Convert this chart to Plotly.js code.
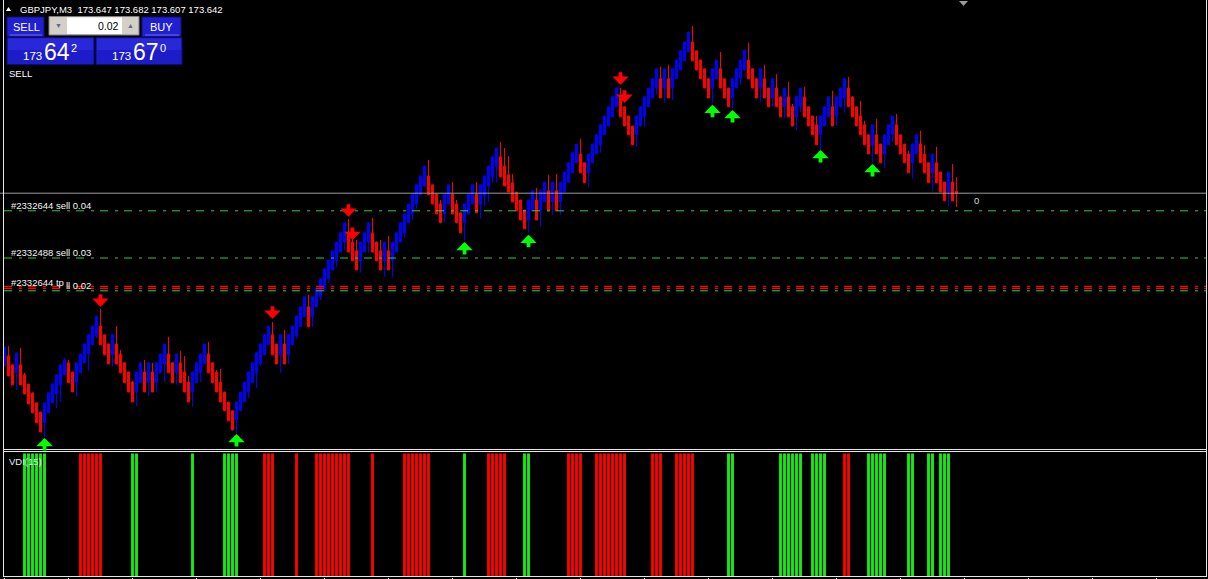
<!DOCTYPE html>
<html><head><meta charset="utf-8">
<script src="https://cdn.plot.ly/plotly-3.0.1.min.js"></script>
<style>html,body{margin:0;padding:0;background:#000;}#chart{width:1208px;height:579px;}</style>
</head><body><div id="chart"></div>
<script>
// ---------------- DATA ----------------
const symbolName = 'GBPJPY,M3';
const lastOHLC = ['173.647', '173.682', '173.607', '173.642'];
const opens = [
173.210,173.235,173.213,173.193,173.213,173.188,173.165,173.143,173.118,173.095,
173.068,173.093,173.118,173.140,173.163,173.188,173.218,173.195,173.168,173.193,
173.218,173.240,173.263,173.285,173.310,173.288,173.265,173.238,173.265,173.240,
173.218,173.195,173.170,173.145,173.168,173.195,173.168,173.195,173.168,173.193,
173.215,173.240,173.218,173.193,173.218,173.195,173.170,173.145,173.168,173.193,
173.215,173.240,173.218,173.195,173.170,173.145,173.120,173.098,173.075,173.098,
173.120,173.145,173.168,173.193,173.215,173.238,173.263,173.288,173.265,173.238,
173.265,173.238,173.263,173.285,173.308,173.333,173.358,173.333,173.358,173.383,
173.405,173.428,173.450,173.473,173.495,173.520,173.543,173.520,173.498,173.473,
173.495,173.520,173.543,173.520,173.498,173.473,173.498,173.473,173.495,173.520,
173.543,173.568,173.590,173.615,173.638,173.660,173.685,173.663,173.640,173.615,
173.590,173.615,173.640,173.615,173.593,173.568,173.590,173.615,173.640,173.613,
173.635,173.660,173.683,173.708,173.733,173.710,173.688,173.668,173.645,173.625,
173.600,173.575,173.598,173.625,173.598,173.620,173.648,173.620,173.648,173.620,
173.645,173.668,173.693,173.718,173.740,173.718,173.693,173.718,173.740,173.763,
173.788,173.810,173.833,173.858,173.883,173.858,173.835,173.810,173.788,173.810,
173.833,173.858,173.880,173.905,173.928,173.905,173.928,173.905,173.928,173.950,
173.973,173.995,174.020,173.998,173.975,173.953,173.928,173.905,173.928,173.953,
173.928,173.905,173.880,173.905,173.928,173.950,173.975,173.953,173.928,173.905,
173.928,173.905,173.880,173.905,173.883,173.858,173.883,173.858,173.833,173.858,
173.883,173.858,173.835,173.813,173.788,173.810,173.833,173.858,173.833,173.858,
173.880,173.905,173.883,173.858,173.835,173.813,173.788,173.763,173.788,173.765,
173.740,173.763,173.788,173.813,173.788,173.765,173.740,173.718,173.740,173.765,
173.740,173.718,173.693,173.718,173.695,173.670,173.645,173.670,173.647];
const highs = [
173.258,173.260,173.213,173.243,173.255,173.193,173.165,173.143,173.118,173.095,
173.118,173.143,173.165,173.188,173.213,173.230,173.225,173.195,173.218,173.240,
173.265,173.288,173.310,173.335,173.353,173.288,173.265,173.288,173.310,173.250,
173.218,173.195,173.173,173.195,173.218,173.225,173.218,173.218,173.218,173.240,
173.265,173.283,173.218,173.240,173.248,173.235,173.185,173.195,173.218,173.240,
173.265,173.270,173.218,173.200,173.203,173.145,173.120,173.098,173.120,173.145,
173.170,173.195,173.218,173.243,173.265,173.288,173.310,173.320,173.265,173.288,
173.300,173.288,173.310,173.335,173.358,173.383,173.388,173.383,173.405,173.428,
173.453,173.475,173.498,173.520,173.543,173.568,173.578,173.530,173.525,173.520,
173.543,173.568,173.580,173.520,173.525,173.520,173.535,173.520,173.543,173.568,
173.590,173.615,173.640,173.663,173.685,173.710,173.725,173.663,173.640,173.625,
173.640,173.663,173.670,173.625,173.593,173.615,173.640,173.663,173.670,173.663,
173.685,173.710,173.733,173.755,173.770,173.755,173.735,173.690,173.645,173.625,
173.600,173.625,173.648,173.655,173.648,173.670,173.688,173.670,173.690,173.670,
173.695,173.718,173.743,173.765,173.778,173.718,173.740,173.765,173.788,173.813,
173.835,173.858,173.883,173.905,173.905,173.858,173.835,173.810,173.835,173.858,
173.883,173.905,173.928,173.953,173.958,173.953,173.963,173.953,173.975,173.998,
174.020,174.045,174.060,173.998,173.975,173.953,173.928,173.953,173.975,173.995,
173.928,173.905,173.928,173.953,173.975,174.000,174.018,173.953,173.928,173.953,
173.963,173.905,173.928,173.940,173.883,173.905,173.920,173.865,173.883,173.905,
173.908,173.858,173.835,173.835,173.835,173.858,173.883,173.898,173.883,173.905,
173.928,173.933,173.883,173.858,173.873,173.823,173.788,173.813,173.828,173.765,
173.788,173.813,173.835,173.840,173.788,173.765,173.748,173.765,173.788,173.798,
173.763,173.718,173.740,173.758,173.695,173.670,173.695,173.715,173.682];
const lows = [
173.210,173.185,173.163,173.150,173.163,173.140,173.115,173.093,173.068,173.045,
173.033,173.093,173.118,173.105,173.120,173.188,173.168,173.145,173.133,173.193,
173.218,173.198,173.263,173.280,173.263,173.238,173.215,173.208,173.215,173.193,
173.168,173.145,173.120,173.110,173.168,173.145,173.135,173.145,173.145,173.193,
173.170,173.193,173.168,173.163,173.168,173.145,173.120,173.108,173.168,173.170,
173.215,173.193,173.168,173.145,173.120,173.098,173.073,173.050,173.043,173.098,
173.120,173.130,173.168,173.155,173.210,173.238,173.263,173.238,173.215,173.193,
173.215,173.215,173.263,173.278,173.308,173.333,173.308,173.308,173.358,173.375,
173.395,173.418,173.450,173.458,173.495,173.500,173.495,173.473,173.450,173.443,
173.495,173.493,173.495,173.473,173.450,173.433,173.450,173.433,173.495,173.520,
173.530,173.568,173.575,173.603,173.638,173.660,173.638,173.615,173.590,173.568,
173.568,173.615,173.590,173.568,173.543,173.525,173.590,173.615,173.593,173.578,
173.610,173.620,173.668,173.668,173.683,173.660,173.645,173.620,173.598,173.575,
173.553,173.543,173.598,173.575,173.558,173.620,173.598,173.588,173.598,173.588,
173.645,173.668,173.693,173.718,173.693,173.668,173.658,173.718,173.740,173.743,
173.788,173.810,173.833,173.858,173.833,173.810,173.788,173.763,173.758,173.810,
173.808,173.858,173.880,173.888,173.880,173.868,173.880,173.875,173.928,173.950,
173.973,173.995,173.973,173.950,173.928,173.905,173.880,173.868,173.928,173.905,
173.880,173.858,173.853,173.905,173.913,173.950,173.928,173.905,173.880,173.870,
173.880,173.858,173.858,173.858,173.833,173.830,173.833,173.810,173.800,173.845,
173.833,173.810,173.788,173.763,173.750,173.810,173.833,173.810,173.810,173.858,
173.843,173.858,173.833,173.810,173.788,173.763,173.740,173.718,173.740,173.718,
173.705,173.763,173.770,173.763,173.740,173.718,173.693,173.678,173.740,173.718,
173.693,173.668,173.648,173.668,173.645,173.623,173.608,173.623,173.607];
const closes = [
173.258,173.185,173.163,173.243,173.163,173.140,173.115,173.093,173.068,173.045,
173.118,173.143,173.165,173.188,173.213,173.225,173.168,173.145,173.218,173.240,
173.265,173.288,173.310,173.335,173.263,173.238,173.215,173.288,173.215,173.193,
173.168,173.145,173.120,173.195,173.218,173.145,173.218,173.145,173.218,173.240,
173.265,173.193,173.168,173.240,173.168,173.145,173.120,173.195,173.218,173.240,
173.265,173.193,173.168,173.145,173.120,173.098,173.073,173.050,173.120,173.145,
173.170,173.195,173.218,173.243,173.265,173.288,173.310,173.238,173.215,173.288,
173.215,173.288,173.310,173.335,173.358,173.383,173.308,173.383,173.405,173.428,
173.453,173.475,173.498,173.520,173.543,173.568,173.495,173.473,173.450,173.520,
173.543,173.568,173.495,173.473,173.450,173.520,173.450,173.520,173.543,173.568,
173.590,173.615,173.640,173.663,173.685,173.710,173.638,173.615,173.590,173.568,
173.640,173.663,173.590,173.568,173.543,173.615,173.640,173.663,173.593,173.663,
173.685,173.710,173.733,173.755,173.683,173.660,173.645,173.620,173.598,173.575,
173.553,173.625,173.648,173.575,173.648,173.670,173.598,173.670,173.598,173.670,
173.695,173.718,173.743,173.765,173.693,173.668,173.740,173.765,173.788,173.813,
173.835,173.858,173.883,173.905,173.833,173.810,173.788,173.763,173.835,173.858,
173.883,173.905,173.928,173.953,173.880,173.953,173.880,173.953,173.975,173.998,
174.020,174.045,173.973,173.950,173.928,173.905,173.880,173.953,173.975,173.905,
173.880,173.858,173.928,173.953,173.975,174.000,173.928,173.905,173.880,173.953,
173.880,173.858,173.928,173.858,173.833,173.905,173.833,173.810,173.883,173.905,
173.833,173.810,173.788,173.763,173.835,173.858,173.883,173.810,173.883,173.905,
173.928,173.858,173.833,173.810,173.788,173.763,173.740,173.813,173.740,173.718,
173.788,173.813,173.835,173.763,173.740,173.718,173.693,173.765,173.788,173.718,
173.693,173.668,173.740,173.668,173.645,173.623,173.695,173.623,173.642];

// signal arrows (bar index, price of arrow tip)
const upArrowIdx = [10, 58, 115, 131, 177, 182, 204, 217];
const upArrowPrice = [173.030, 173.040, 173.520, 173.538, 173.863, 173.850, 173.750, 173.715];
const downArrowIdx = [24, 67, 86, 87, 154, 155];
const downArrowPrice = [173.358, 173.328, 173.583, 173.525, 173.913, 173.868];

// VDI(15) histogram: bars that are up (green) / down (red)
const vdiUpIdx = [5,6,7,8,9,10, 32,33, 47, 55,56,57,58, 115, 130,131, 181,182,
  194,195,196,197,198,199, 202,203,204,205, 216,217,218,219,220, 226,227, 231,232, 234,235,236];
const vdiDownIdx = [19,20,21,22,23,24, 65,66,67, 73, 78,79,80,81,82,83,84,85,86, 92,
  100,101,102,103,104,105,106, 121,122,123,124,125, 141,142,143,144,
  148,149,150,151,152,153,154,155, 162,163,164, 168,169,170,171,172, 210,211];
const vdiLevel = 1;

// price levels
const bidPrice = 173.642;
const orderLabels = ['#2332644 sell 0.04', '#2332488 sell 0.03', 'll 0.02'];
const orderPrices = [173.598, 173.480, 173.398];
const tpLabel = '#2332644 tp';
const tpPrices = [173.409, 173.404];
const lotSize = '0.02';
const sellPrice = ['173', '64', '2'];
const buyPrice = ['173', '67', '0'];

// ---------------- LAYOUT HELPERS ----------------
const W = 1208, H = 579;
const PX = x => x / W;
const PY = y => 1 - y / H;
const FONT = 'Liberation Sans, Arial, sans-serif';
const xIdx = opens.map((_, i) => i);

const shapes = [];
const annotations = [];
function rect(x0, y0, x1, y1, fill, line) {
  shapes.push({type: 'rect', xref: 'paper', yref: 'paper', x0: PX(x0), x1: PX(x1), y0: PY(y1), y1: PY(y0),
    fillcolor: fill, line: {color: line || fill, width: line ? 1 : 0}, layer: 'above'});
}
function hline(y, x0, x1, color) {
  shapes.push({type: 'line', xref: 'paper', yref: 'paper', x0: PX(x0), x1: PX(x1), y0: PY(y), y1: PY(y),
    line: {color: color, width: 1}, layer: 'above'});
}
function vline(x, y0, y1, color) {
  shapes.push({type: 'line', xref: 'paper', yref: 'paper', x0: PX(x), x1: PX(x), y0: PY(y0), y1: PY(y1),
    line: {color: color, width: 1}, layer: 'above'});
}
function label(text, x, y, size, color, anchor, extra) {
  annotations.push(Object.assign({text: text, xref: 'paper', yref: 'paper', x: PX(x), y: PY(y),
    xanchor: anchor || 'left', yanchor: 'middle', showarrow: false,
    font: {family: FONT, size: size, color: color}, borderpad: 0}, extra || {}));
}

// price lines
shapes.push({type: 'line', xref: 'paper', yref: 'y', x0: 0, x1: PX(1206), y0: bidPrice, y1: bidPrice,
  line: {color: '#9a9a9a', width: 1}});
orderPrices.forEach(p => shapes.push({type: 'line', xref: 'paper', yref: 'y', x0: PX(4), x1: PX(1206), y0: p, y1: p,
  line: {color: '#32cd32', width: 1, dash: '8px,7px,3px,6px'}}));
tpPrices.forEach(p => shapes.push({type: 'line', xref: 'paper', yref: 'y', x0: PX(4), x1: PX(1206), y0: p, y1: p,
  line: {color: '#ff0000', width: 1.3, dash: '8px,7px,3px,6px'}}));

// frame
vline(3.5, 0, 577, '#e6e6e6');
vline(1206.5, 0, 577, '#e6e6e6');
hline(449.5, 3, 1207, '#e6e6e6');
hline(451.5, 3, 1207, '#e6e6e6');
hline(576.5, 3, 1207, '#e6e6e6');
// chart-shift marker
shapes.push({type: 'path', xref: 'paper', yref: 'paper',
  path: `M${PX(959)},${PY(1)} L${PX(968)},${PY(1)} L${PX(963.5)},${PY(6)} Z`, fillcolor: '#9a9a9a', line: {width: 0}});
// header triangle
shapes.push({type: 'path', xref: 'paper', yref: 'paper',
  path: `M${PX(6)},${PY(11)} L${PX(11)},${PY(11)} L${PX(8.5)},${PY(7)} Z`, fillcolor: '#ffffff', line: {width: 0}});

// one-click trading panel
rect(7, 17, 44, 36.5, '#2020d0', '#101080');
rect(142, 17, 181, 36.5, '#2020d0', '#101080');
hline(35, 10, 42, '#6a6af0');
hline(35, 145, 179, '#6a6af0');
rect(49, 16.5, 139, 35, '#d4d0c8', '#808080');
rect(67, 17.5, 122, 34, '#ffffff');
rect(7, 37.5, 94, 64.5, '#1c1cc8', '#0c0c70');
rect(96, 37.5, 182, 64.5, '#1c1cc8', '#0c0c70');
rect(8, 38.5, 93, 50, '#2828d8');
rect(97, 38.5, 181, 50, '#2828d8');

// texts
label(symbolName + '  ' + lastOHLC.join(' '), 18.5, 9.5, 9.5, '#ffffff');
label('SELL', 26, 27, 11, '#ffffff', 'center');
label('BUY', 161.5, 27, 11, '#ffffff', 'center');
label('▼', 58.5, 25.5, 7, '#5a6a8a', 'center');
label('▲', 130.5, 25.5, 7, '#5a6a8a', 'center');
label(lotSize, 119.5, 25.5, 10.5, '#000000', 'right');
label(sellPrice[0], 22, 55.5, 11.5, '#ffffff');
label(sellPrice[1], 43, 51.5, 23, '#ffffff');
label(sellPrice[2], 69.5, 48, 11, '#ffffff');
label(buyPrice[0], 111, 55.5, 11.5, '#ffffff');
label(buyPrice[1], 132, 51.5, 23, '#ffffff');
label(buyPrice[2], 158.5, 48, 11, '#ffffff');
label('SELL', 8, 73.5, 9.5, '#ffffff');
label(orderLabels[0], 10, 205.5, 9.5, '#f4f4f4');
label(orderLabels[1], 10, 252.5, 9.5, '#f4f4f4');
label(tpLabel, 10, 282.5, 9.5, '#f4f4f4');
label(orderLabels[2], 64.5, 285, 9.5, '#f4f4f4');
label('0', 973, 200, 9.5, '#d8d8d8');
label('VDI(15)', 8, 461, 9.5, '#e8eef8');

// signal arrows
upArrowIdx.forEach((ix, k) => annotations.push({x: ix, y: upArrowPrice[k], xref: 'x', yref: 'y', text: '',
  showarrow: true, arrowhead: 1, arrowsize: 0.72, arrowwidth: 3.8, arrowcolor: '#00ff00', ax: 0, ay: 14, standoff: 0}));
downArrowIdx.forEach((ix, k) => annotations.push({x: ix, y: downArrowPrice[k], xref: 'x', yref: 'y', text: '',
  showarrow: true, arrowhead: 1, arrowsize: 0.72, arrowwidth: 3.8, arrowcolor: '#ff0000', ax: 0, ay: -14, standoff: 0}));

// ---------------- TRACES ----------------
const candles = {
  type: 'candlestick', x: xIdx, open: opens, high: highs, low: lows, close: closes,
  xaxis: 'x', yaxis: 'y', hoverinfo: 'skip', whiskerwidth: 0,
  increasing: {line: {color: '#0000ff', width: 1}, fillcolor: '#0000ff'},
  decreasing: {line: {color: '#ff0000', width: 1}, fillcolor: '#ff0000'}
};
const vdiUp = {type: 'bar', x: vdiUpIdx, y: vdiUpIdx.map(() => vdiLevel), xaxis: 'x2', yaxis: 'y2',
  width: 0.72, marker: {color: '#10ee10', line: {width: 0}}, hoverinfo: 'skip'};
const vdiDown = {type: 'bar', x: vdiDownIdx, y: vdiDownIdx.map(() => vdiLevel), xaxis: 'x2', yaxis: 'y2',
  width: 0.72, marker: {color: '#ff0000', line: {width: 0}}, hoverinfo: 'skip'};

const xr = [-1.125, 300.875];
const layout = {
  width: W, height: H, margin: {l: 0, r: 0, t: 0, b: 0, pad: 0},
  paper_bgcolor: '#000000', plot_bgcolor: '#000000', showlegend: false,
  boxgap: 0.3, boxgroupgap: 0.3, barmode: 'overlay',
  xaxis: {domain: [0, 1], range: xr, anchor: 'y', visible: false, rangeslider: {visible: false}, fixedrange: true},
  yaxis: {domain: [130 / H, 1], range: [174.125 - 449 / 400, 174.125], anchor: 'x', visible: false, fixedrange: true},
  xaxis2: {domain: [0, 1], range: xr, anchor: 'y2', showgrid: false, zeroline: false, showline: false,
    showticklabels: false, ticks: 'outside', ticklen: 3, tickwidth: 1, tickcolor: '#e6e6e6', tick0: 0, dtick: 16, fixedrange: true},
  yaxis2: {domain: [2 / H, 128 / H], range: [0, 1.02], anchor: 'x2', visible: false, fixedrange: true},
  shapes: shapes, annotations: annotations
};
Plotly.newPlot('chart', [candles, vdiUp, vdiDown], layout, {staticPlot: true, displayModeBar: false});
</script>
</body></html>
